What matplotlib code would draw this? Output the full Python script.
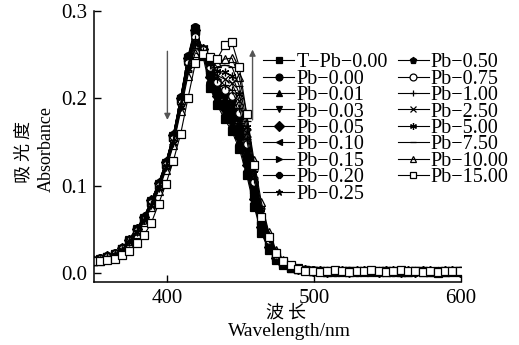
import numpy as np
import matplotlib
matplotlib.use('Agg')
import matplotlib.pyplot as plt

plt.rcParams['font.family'] = ['Liberation Serif', 'Noto Sans CJK SC']

# wavelength grid (nm), one point every 5 nm
wavelength = np.arange(349, 600, 5)

labels = ['T\u2212Pb\u22120.00', 'Pb\u22120.00', 'Pb\u22120.01', 'Pb\u22120.03', 'Pb\u22120.05',
          'Pb\u22120.10', 'Pb\u22120.15', 'Pb\u22120.20', 'Pb\u22120.25', 'Pb\u22120.50',
          'Pb\u22120.75', 'Pb\u22121.00', 'Pb\u22122.50', 'Pb\u22125.00', 'Pb\u22127.50',
          'Pb\u221210.00', 'Pb\u221215.00']

t_pb_000 = [.014, .016, .018, .022, .027, .037, .049, .062, .081, .101, .125, .156, .199, .246,
            .279, .250, .212, .192, .176, .162, .142, .112, .076, .046, .026, .015, .009, .006,
            .004, .003, .002, .002, .001, .002, .001, .002, .002, .001, .002, .001, .002, .002, .001, .001, .002, .002, .001, .000, .001, .002, .002]
pb_000 = [.015, .017, .019, .023, .028, .038, .050, .063, .082, .103, .127, .158, .201, .248,
          .282, .255, .218, .196, .180, .166, .146, .116, .079, .048, .027, .016, .010, .006,
          .004, .003, .003, .002, .002, .001, .002, .002, .001, .002, .002, .001, .002, .001, .002, .002, .001, .002, .001, .001, .002, .001, .002]
pb_001 = [.013, .016, .018, .022, .028, .039, .051, .064, .083, .102, .126, .157, .200, .247,
          .280, .254, .220, .198, .182, .169, .149, .118, .081, .049, .028, .016, .010, .006,
          .004, .003, .002, .002, .001, .002, .002, .001, .002, .002, .001, .002, .002, .001, .001, .002, .002, .001, .002, .002, .001, .002, .001]
pb_003 = [.014, .015, .018, .021, .027, .038, .050, .063, .082, .102, .126, .157, .199, .246,
          .279, .255, .222, .200, .185, .172, .152, .121, .083, .050, .029, .017, .010, .006,
          .005, .003, .002, .002, .002, .001, .002, .002, .001, .002, .001, .002, .002, .001, .002, .001, .002, .002, .001, .002, .002, .001, .002]
pb_005 = [.015, .016, .019, .022, .028, .038, .050, .064, .083, .103, .127, .158, .200, .246,
          .278, .256, .224, .203, .188, .176, .156, .124, .085, .052, .030, .017, .010, .007,
          .004, .003, .002, .002, .001, .002, .002, .001, .002, .002, .002, .001, .002, .002, .001, .002, .001, .002, .002, .001, .002, .002, .001]
pb_010 = [.014, .016, .018, .022, .027, .037, .049, .063, .082, .102, .126, .157, .199, .245,
          .277, .256, .226, .205, .190, .179, .159, .127, .088, .054, .031, .018, .011, .007,
          .004, .003, .002, .002, .002, .001, .002, .002, .002, .001, .002, .002, .001, .002, .002, .001, .002, .001, .002, .002, .001, .002, .002]
pb_015 = [.013, .015, .018, .021, .027, .037, .049, .062, .081, .101, .125, .156, .198, .244,
          .276, .256, .228, .208, .193, .183, .163, .130, .090, .055, .032, .018, .011, .007,
          .004, .003, .003, .002, .001, .002, .002, .001, .002, .002, .001, .002, .002, .002, .001, .002, .002, .001, .002, .001, .002, .002, .001]
pb_020 = [.014, .016, .019, .022, .028, .038, .050, .063, .082, .102, .126, .157, .199, .244,
          .275, .256, .230, .210, .196, .187, .167, .134, .093, .057, .033, .019, .011, .007,
          .004, .003, .002, .002, .002, .001, .002, .002, .001, .002, .002, .001, .002, .001, .002, .002, .001, .002, .002, .001, .002, .002, .002]
pb_025 = [.014, .016, .018, .022, .027, .037, .049, .062, .081, .101, .125, .155, .197, .243,
          .274, .256, .232, .213, .200, .191, .171, .138, .096, .059, .034, .019, .012, .007,
          .005, .003, .002, .002, .001, .002, .002, .001, .002, .002, .002, .001, .002, .002, .001, .002, .001, .002, .002, .001, .002, .001, .002]
pb_050 = [.013, .015, .018, .021, .027, .037, .048, .062, .080, .100, .124, .154, .196, .241,
          .272, .255, .234, .216, .205, .197, .177, .143, .100, .062, .036, .020, .012, .007,
          .004, .003, .002, .002, .002, .001, .002, .002, .002, .001, .002, .002, .001, .002, .002, .001, .002, .002, .001, .002, .002, .001, .002]
pb_075 = [.014, .016, .018, .022, .027, .037, .048, .061, .080, .100, .124, .153, .195, .240,
          .270, .255, .236, .219, .210, .203, .183, .148, .104, .065, .038, .021, .012, .008,
          .004, .003, .002, .002, .001, .002, .002, .001, .002, .002, .001, .002, .002, .001, .002, .002, .001, .002, .001, .002, .002, .001, .002]
pb_100 = [.013, .015, .018, .021, .026, .036, .048, .061, .079, .099, .123, .152, .194, .238,
          .268, .254, .238, .222, .215, .209, .189, .153, .108, .067, .039, .022, .013, .008,
          .004, .003, .002, .002, .002, .001, .002, .002, .001, .002, .002, .002, .001, .002, .002, .001, .002, .002, .002, .001, .002, .002, .001]
pb_250 = [.014, .015, .017, .021, .026, .036, .047, .060, .078, .098, .122, .151, .192, .236,
          .265, .253, .240, .226, .222, .217, .197, .160, .113, .070, .041, .023, .013, .008,
          .005, .003, .002, .002, .001, .002, .002, .001, .002, .002, .001, .002, .001, .002, .002, .001, .002, .002, .001, .002, .002, .002, .001]
pb_500 = [.013, .015, .017, .020, .026, .035, .047, .060, .078, .097, .121, .149, .190, .233,
          .262, .252, .242, .231, .230, .226, .205, .167, .118, .073, .043, .024, .014, .008,
          .005, .003, .002, .002, .002, .001, .002, .002, .001, .002, .002, .001, .002, .002, .001, .002, .001, .002, .002, .001, .002, .002, .002]
pb_750 = [.013, .014, .017, .020, .025, .035, .046, .059, .077, .096, .120, .148, .188, .230,
          .258, .250, .243, .236, .238, .236, .214, .174, .123, .077, .045, .025, .014, .009,
          .005, .003, .002, .002, .001, .002, .002, .002, .001, .002, .002, .001, .002, .001, .002, .002, .001, .002, .002, .001, .002, .001, .002]
pb_1000 = [.013, .014, .016, .020, .025, .034, .045, .058, .075, .094, .118, .146, .185, .226,
           .252, .248, .244, .240, .245, .246, .224, .182, .129, .081, .047, .026, .015, .009,
           .005, .003, .002, .002, .002, .001, .002, .002, .001, .002, .002, .002, .001, .002, .002, .001, .002, .002, .001, .002, .002, .001, .002]
pb_1500 = [.013, .014, .015, .016, .021, .025, .034, .043, .057, .079, .102, .128, .159, .200,
           .240, .251, .247, .245, .261, .264, .236, .182, .123, .064, .041, .023, .014, .009,
           .004, .002, .002, .001, .002, .003, .002, .001, .002, .002, .003, .002, .001, .002, .003, .002, .002, .001, .002, .001, .002, .002, .002]

series = [t_pb_000, pb_000, pb_001, pb_003, pb_005, pb_010, pb_015, pb_020, pb_025,
          pb_050, pb_075, pb_100, pb_250, pb_500, pb_750, pb_1000, pb_1500]

markers = ['s', 'o', '^', 'v', 'D', '<', '>', '8', '*', 'p', 'o', '+', 'x', (6, 2, 0), '_', '^', 's']
faces = ['k'] * 10 + ['white', 'k', 'k', 'k', 'k', 'none', 'white']

fig = plt.figure(figsize=(5.19, 3.45), dpi=100)
ax = fig.add_axes([94 / 519, 1 - 282 / 345, (461 - 94) / 519, (282 - 11) / 345])

for y, lab, m, fc in zip(series, labels, markers, faces):
    ax.plot(wavelength, y, color='k', lw=0.8, marker=m, ms=5.5, mfc=fc, mec='k', mew=0.9,
            label=lab, clip_on=True)

ax.set_xlim(350, 600)
ax.set_ylim(-0.0105, 0.3)
ax.set_xticks([400, 500, 600])
ax.set_yticks([0.0, 0.1, 0.2, 0.3])
ax.set_yticklabels(['0.0', '0.1', '0.2', '0.3'])
ax.tick_params(direction='in', length=5, width=1, labelsize=15, pad=5)
ax.spines['top'].set_visible(False)
ax.spines['right'].set_visible(False)
for s in ['left', 'bottom']:
    ax.spines[s].set_linewidth(1.1)

# arrows showing the trend
ax.annotate('', xy=(400, 0.172), xytext=(400, 0.257),
            arrowprops=dict(arrowstyle='-|>', color='#555555', lw=1.0, mutation_scale=9))
ax.annotate('', xy=(458, 0.259), xytext=(458, 0.172),
            arrowprops=dict(arrowstyle='-|>', color='#555555', lw=1.0, mutation_scale=9))

fig.legend(loc='upper left', bbox_to_anchor=(263 / 519, 1 - 53 / 345), ncol=2, frameon=False,
           fontsize=14.5, handlelength=1.55, handletextpad=0.1, columnspacing=0.5,
           labelspacing=-0.13, borderpad=0, borderaxespad=0, markerscale=0.9)

fig.text(23.5 / 519, 1 - 152 / 345, '吸 光 度', rotation=90, ha='center', va='center',
         fontsize=13, family='Noto Sans CJK SC')
fig.text(46 / 519, 1 - 149 / 345, 'Absorbance', rotation=90, ha='center', va='center', fontsize=13)
fig.text(286 / 519, 1 - 312.5 / 345, '波 长', ha='center', va='center', fontsize=13,
         family='Noto Sans CJK SC')
fig.text(289 / 519, 1 - 332 / 345, 'Wavelength/nm', ha='center', va='center', fontsize=14)

fig.savefig('out.png', dpi=100)
